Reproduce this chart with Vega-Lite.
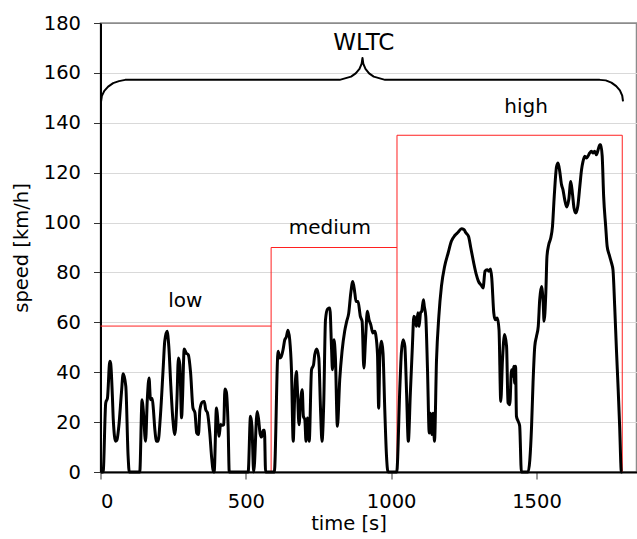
{
"$schema":"https://vega.github.io/schema/vega-lite/v6.json",
"width":536,"height":449,
"autosize":{"type":"none"},
"padding":{"left":100.5,"top":23,"right":0.5,"bottom":67},
"background":"white",
"config":{"view":{"stroke":"#8c8c8c","strokeWidth":1.5},"font":"DejaVu Sans"},
"datasets":{
"speed":[
{"t":0,"v":0},{"t":9,"v":0},{"t":18,"v":27.7},{"t":24,"v":29.7},{"t":32,"v":44.4},{"t":35,"v":43.5},{"t":41,"v":30},{"t":44,"v":21},{"t":52,"v":12.3},{"t":57,"v":13},{"t":63,"v":18.3},{"t":72,"v":31.7},{"t":78,"v":39.4},{"t":87,"v":34.4},{"t":95,"v":6.3},{"t":99,"v":0},{"t":135,"v":0},{"t":143,"v":29},{"t":147,"v":25},{"t":155,"v":12.3},{"t":161,"v":29},{"t":167,"v":37.7},{"t":172,"v":29},{"t":178,"v":29.5},{"t":182,"v":25},{"t":187,"v":17},{"t":193,"v":12.3},{"t":198,"v":12.3},{"t":206,"v":22.3},{"t":216,"v":42.4},{"t":221,"v":52.4},{"t":229,"v":56.4},{"t":235,"v":50.4},{"t":242,"v":34.4},{"t":249,"v":21},{"t":256,"v":15},{"t":263,"v":29},{"t":268,"v":45.7},{"t":273,"v":43},{"t":279,"v":21.7},{"t":282,"v":29},{"t":288,"v":49.3},{"t":295,"v":47.7},{"t":302,"v":47},{"t":310,"v":39.7},{"t":318,"v":25.7},{"t":325,"v":23.7},{"t":331,"v":15.6},{"t":337,"v":15},{"t":342,"v":25},{"t":350,"v":28},{"t":357,"v":28.3},{"t":362,"v":25},{"t":368,"v":23.7},{"t":376,"v":15.6},{"t":382,"v":6.3},{"t":389,"v":0},{"t":391,"v":0},{"t":399,"v":25.7},{"t":402,"v":23},{"t":408,"v":14.3},{"t":413,"v":19},{"t":420,"v":18.7},{"t":424,"v":19},{"t":428,"v":33.3},{"t":433,"v":32},{"t":439,"v":18.3},{"t":443,"v":0},{"t":508,"v":0},{"t":516,"v":22.3},{"t":521,"v":18.3},{"t":527,"v":0},{"t":539,"v":24.3},{"t":544,"v":21},{"t":549,"v":15.4},{"t":554,"v":14},{"t":560,"v":16.7},{"t":564,"v":16.7},{"t":568,"v":0},
{"t":598,"v":0},{"t":611,"v":48.4},{"t":617,"v":45.7},{"t":622,"v":46.3},{"t":628,"v":49},{"t":634,"v":53},{"t":639,"v":54},{"t":645,"v":56.8},{"t":651,"v":53},{"t":657,"v":41},{"t":663,"v":12.3},{"t":668,"v":30.3},{"t":674,"v":40.3},{"t":677,"v":34.3},{"t":683,"v":18.9},{"t":688,"v":27.6},{"t":694,"v":33},{"t":698,"v":22.3},{"t":703,"v":21},{"t":707,"v":12.3},{"t":712,"v":21.6},{"t":718,"v":12.3},{"t":726,"v":41},{"t":733,"v":43},{"t":737,"v":47},{"t":744,"v":49.3},{"t":751,"v":45.7},{"t":757,"v":25},{"t":762,"v":12.3},{"t":768,"v":27.6},{"t":774,"v":61},{"t":781,"v":65.3},{"t":789,"v":65.7},{"t":795,"v":49},{"t":798,"v":41},{"t":803,"v":53},{"t":808,"v":46.3},{"t":815,"v":18.3},{"t":823,"v":37},{"t":831,"v":48.4},{"t":840,"v":56.4},{"t":847,"v":60.4},{"t":854,"v":63.7},{"t":861,"v":71.7},{"t":868,"v":76.4},{"t":875,"v":71.7},{"t":879,"v":68.4},{"t":886,"v":68.4},{"t":894,"v":62.4},{"t":900,"v":60.4},{"t":906,"v":41.7},{"t":912,"v":53.7},{"t":918,"v":64.4},{"t":924,"v":61},{"t":930,"v":59},{"t":937,"v":55.7},{"t":944,"v":56.4},{"t":947,"v":55},{"t":953,"v":47},{"t":957,"v":25.6},{"t":961,"v":46.3},{"t":967,"v":52.4},{"t":972,"v":47.7},{"t":978,"v":25},{"t":984,"v":6.3},{"t":989,"v":0},
{"t":1019,"v":0},{"t":1030,"v":34.4},{"t":1035,"v":47.7},{"t":1041,"v":53},{"t":1047,"v":50.4},{"t":1053,"v":31.7},{"t":1059,"v":12.3},{"t":1066,"v":31.7},{"t":1073,"v":50.4},{"t":1078,"v":62.4},{"t":1082,"v":61.7},{"t":1087,"v":58.4},{"t":1092,"v":63.8},{"t":1096,"v":58.4},{"t":1101,"v":63.8},{"t":1105,"v":64.4},{"t":1111,"v":69.1},{"t":1114,"v":66.4},{"t":1119,"v":62.4},{"t":1125,"v":41},{"t":1131,"v":15.6},{"t":1135,"v":23.6},{"t":1140,"v":15},{"t":1144,"v":23.6},{"t":1149,"v":12.3},{"t":1156,"v":45},{"t":1164,"v":62.4},{"t":1173,"v":74.5},{"t":1184,"v":82.5},{"t":1196,"v":87.8},{"t":1207,"v":92.5},{"t":1219,"v":94.8},{"t":1230,"v":96.1},{"t":1242,"v":97.5},{"t":1250,"v":97.2},{"t":1257,"v":95.9},{"t":1266,"v":94.5},{"t":1274,"v":89.8},{"t":1284,"v":83.8},{"t":1293,"v":79.1},{"t":1300,"v":76.5},{"t":1311,"v":74.7},{"t":1316,"v":73.8},{"t":1323,"v":80.5},{"t":1330,"v":81.1},{"t":1336,"v":80.5},{"t":1342,"v":81.4},{"t":1346,"v":77.8},{"t":1353,"v":63.8},{"t":1358,"v":61},{"t":1365,"v":61.7},{"t":1371,"v":57.1},{"t":1377,"v":28.3},{"t":1383,"v":45},{"t":1390,"v":55.1},{"t":1397,"v":50.4},{"t":1402,"v":27.7},{"t":1408,"v":27},{"t":1414,"v":41},{"t":1418,"v":38.4},{"t":1422,"v":42.4},{"t":1425,"v":35.5},{"t":1428,"v":42.4},{"t":1431,"v":22.3},{"t":1437,"v":20.3},{"t":1442,"v":18.5},{"t":1448,"v":0},{"t":1471,"v":0},{"t":1483,"v":18.3},{"t":1488,"v":35.6},{"t":1494,"v":50.4},{"t":1500,"v":54.4},{"t":1506,"v":58.4},{"t":1511,"v":69.1},{"t":1517,"v":74.4},{"t":1523,"v":67.7},{"t":1526,"v":60.4},{"t":1532,"v":71.7},{"t":1536,"v":86.4},{"t":1542,"v":91.1},{"t":1549,"v":93.8},{"t":1555,"v":98.5},{"t":1561,"v":110.5},{"t":1569,"v":122.5},{"t":1574,"v":123.9},{"t":1580,"v":120.5},{"t":1586,"v":115.2},{"t":1591,"v":113.2},{"t":1597,"v":109.2},{"t":1604,"v":106.2},{"t":1611,"v":109.2},{"t":1618,"v":116.5},{"t":1624,"v":111.2},{"t":1629,"v":105.8},{"t":1635,"v":103.8},{"t":1642,"v":106.5},{"t":1649,"v":114.5},{"t":1655,"v":121.2},{"t":1660,"v":124.5},{"t":1666,"v":126.6},{"t":1672,"v":125.9},{"t":1677,"v":126.6},{"t":1683,"v":127.9},{"t":1689,"v":128.6},{"t":1694,"v":127.9},{"t":1700,"v":128.6},{"t":1706,"v":127.2},{"t":1712,"v":129.2},{"t":1718,"v":131.2},{"t":1721,"v":131.2},{"t":1726,"v":126.6},{"t":1731,"v":110.5},{"t":1738,"v":98.5},{"t":1743,"v":90.5},{"t":1750,"v":87.1},{"t":1758,"v":83.8},{"t":1763,"v":81.1},{"t":1769,"v":66.4},{"t":1775,"v":49},{"t":1781,"v":33},{"t":1786,"v":18.3},{"t":1792,"v":0},{"t":1795,"v":0}
],
"edges":[
{"t":0,"t2":587,"v":58.5,"v2":58.5},
{"t":587,"t2":587,"v":0,"v2":90},
{"t":587,"t2":1020,"v":90,"v2":90},
{"t":1020,"t2":1020,"v":0,"v2":135},
{"t":1020,"t2":1795,"v":135,"v2":135},
{"t":1795,"t2":1795,"v":0,"v2":135}
],
"brace":[
{"t":2,"v":148.6},{"t":4.8,"v":150.8},{"t":13.1,"v":152.8},{"t":26.3,"v":154.5},{"t":43.5,"v":155.9},{"t":63.5,"v":156.7},{"t":85,"v":157.2},
{"t":823,"v":157.2},{"t":862,"v":158.5},{"t":878,"v":159.8},{"t":891,"v":161.6},{"t":898.5,"v":163.7},{"t":901.3,"v":166},
{"t":904,"v":163.7},{"t":911.6,"v":161.6},{"t":924,"v":159.8},{"t":940,"v":158.5},{"t":979,"v":157.2},
{"t":1717.6,"v":157.2},{"t":1738.3,"v":157.0},{"t":1757.6,"v":156.1},{"t":1774.2,"v":154.7},{"t":1786.9,"v":153.0},{"t":1794.9,"v":150.9},{"t":1797.6,"v":148.6}
],
"phases":[
{"t":292,"v":66,"label":"low"},{"t":789,"v":95.4,"label":"medium"},{"t":1464,"v":144.1,"label":"high"}
],
"cycle":[{"t":906,"v":169,"label":"WLTC"}]
},
"encoding":{
"x":{"field":"t","type":"quantitative","scale":{"domain":[0,1844],"nice":false,"zero":false},
"axis":{"title":"time [s]","values":[0,500,1000,1500],"format":"d","grid":false,"domainColor":"black","domainWidth":2,"tickColor":"#333333","tickWidth":1,"tickSize":7,"labelFontSize":19.5,"labelColor":"black","labelPadding":13,"labelFont":"DejaVu Sans","titleFont":"DejaVu Sans","titleFontSize":19.5,"titleFontWeight":"normal","titleColor":"black","titlePadding":4,"titleX":248,"zindex":1}},
"y":{"field":"v","type":"quantitative","scale":{"domain":[0,180],"nice":false},
"axis":{"title":"speed [km/h]","values":[0,20,40,60,80,100,120,140,160,180],"format":"d","grid":true,"gridColor":{"condition":{"test":"datum.value == 180","value":"#8c8c8c"},"value":"#d9d9d9"},"gridWidth":1,"domainColor":"black","domainWidth":2,"tickColor":"#333333","tickWidth":1,"tickSize":7,"labelFontSize":19.5,"labelColor":"black","labelPadding":13,"labelFont":"DejaVu Sans","titleFont":"DejaVu Sans","titleFontSize":19.5,"titleFontWeight":"normal","titleColor":"black","titlePadding":12}}
},
"layer":[
{"data":{"name":"edges"},"mark":{"type":"rule","color":"#ff2020","strokeWidth":1},"encoding":{"x2":{"field":"t2"},"y2":{"field":"v2"}}},
{"data":{"name":"speed"},"mark":{"type":"line","color":"black","strokeWidth":3,"interpolate":"monotone","strokeJoin":"round"},"encoding":{}},
{"data":{"name":"brace"},"mark":{"type":"line","color":"black","strokeWidth":2,"strokeJoin":"round"},"encoding":{}},
{"data":{"name":"phases"},"mark":{"type":"text","font":"DejaVu Sans","fontSize":20,"color":"black","baseline":"alphabetic","align":"center"},"encoding":{"text":{"field":"label"}}},
{"data":{"name":"cycle"},"mark":{"type":"text","font":"DejaVu Sans","fontSize":23,"color":"black","baseline":"alphabetic","align":"center"},"encoding":{"text":{"field":"label"}}}
]
}
